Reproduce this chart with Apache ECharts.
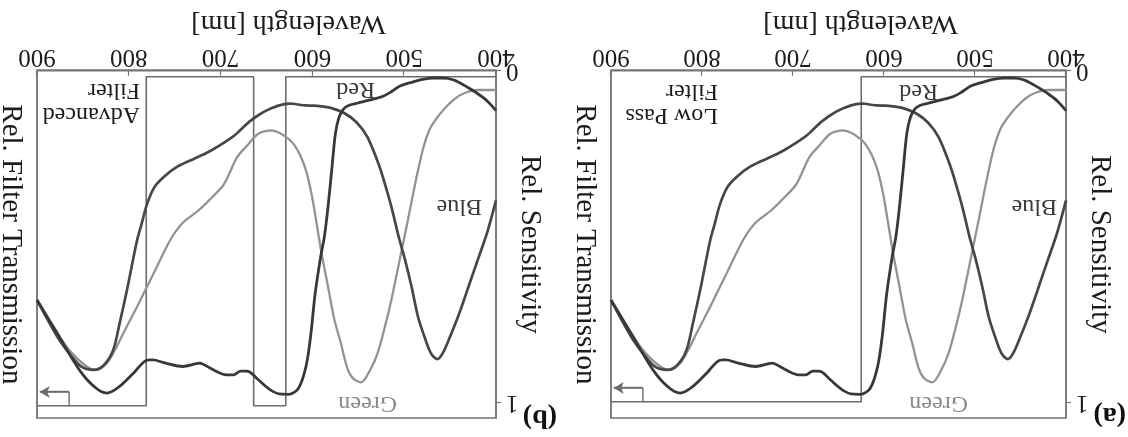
<!DOCTYPE html>
<html>
<head>
<meta charset="utf-8">
<script src="https://cdn.jsdelivr.net/npm/echarts@6/dist/echarts.min.js"></script>
<style>
html,body{margin:0;padding:0;background:#fff;overflow:hidden;}
#chart{width:1128px;height:437px;transform:rotate(180deg);transform-origin:50% 50%;background:#fff;}
</style>
</head>
<body>
<div id="chart"></div>
<script>
// ---- data (wavelength in nm, relative values) ----
const blueNm  = [400,410,420,430,440,450,458,464,471,478,485,492,499,506,513,520,528,540,552,565,580,595,610,625,637,653,669,685,701,717,733,748,762,772,780,786,791,802,810,817,827,838,852,865,878,900];
const blueVal = [0.39,0.49,0.57,0.65,0.73,0.80,0.85,0.868,0.85,0.80,0.74,0.65,0.57,0.50,0.42,0.35,0.28,0.20,0.155,0.128,0.112,0.106,0.104,0.099,0.105,0.124,0.154,0.195,0.225,0.25,0.27,0.29,0.32,0.35,0.40,0.46,0.51,0.66,0.76,0.84,0.885,0.90,0.89,0.85,0.80,0.69];

const greenNm  = [400,420,430,440,450,461,472,479,485,491,496,502,508,514,521,529,537,547,556,562,569,576,583,590,596,601,607,616,626,644,659,671,682,696,709,724,742,755,773,791,806,815,824,835,846,865,882,900];
const greenVal = [0.058,0.058,0.063,0.075,0.097,0.13,0.175,0.23,0.30,0.38,0.45,0.53,0.61,0.69,0.77,0.85,0.90,0.938,0.925,0.895,0.82,0.75,0.65,0.55,0.45,0.37,0.30,0.24,0.205,0.18,0.19,0.225,0.26,0.34,0.38,0.42,0.46,0.51,0.61,0.71,0.79,0.84,0.88,0.90,0.89,0.84,0.77,0.69];

const redNm  = [400,410,421,434,446,458,468,480,492,504,515,523,537,550,560,566,571,575,579,583,587,591,597,602,607,615,626,637,647,659,670,678,686,694,708,723,741,760,774,781,795,810,824,838,854,876,900];
const redVal = [0.12,0.09,0.067,0.045,0.028,0.022,0.022,0.026,0.035,0.045,0.065,0.077,0.088,0.097,0.104,0.115,0.14,0.19,0.30,0.41,0.50,0.56,0.67,0.80,0.89,0.955,0.974,0.972,0.958,0.93,0.905,0.904,0.915,0.915,0.90,0.88,0.89,0.88,0.87,0.872,0.91,0.95,0.97,0.95,0.90,0.80,0.69];

// filter transmission curves
const lowPassNm  = [400,625,625,900];
const lowPassVal = [0.018,0.018,0.996,0.996];
const advancedNm  = [400,629,629,664,664,781,781,900];
const advancedVal = [0.018,0.018,1.008,1.008,0.018,0.018,1.008,1.008];

// right-axis pointer arrows
const arrowNm   = [865,865,897];
const arrowValA = [0.996,0.955,0.955];
const arrowValB = [1.008,0.967,0.967];

// ---- chart ----
const zip = (a, b) => a.map((x, i) => [x, b[i]]);
const FONT = 'Liberation Serif';
const TXT = '#1c1c1c';
const AX = '#767676';
const FILT = '#6c6c6c';

function xAxisCfg(g) {
  return {
    gridIndex: g, type: 'value', min: 400, max: 900, interval: 100,
    axisLine: { show: true, onZero: false, lineStyle: { color: AX, width: 1.5 } },
    axisTick: { show: true, inside: true, length: 5, lineStyle: { color: AX, width: 1.2 } },
    axisLabel: { fontFamily: FONT, fontSize: 25, color: TXT, margin: 2 },
    splitLine: { show: false },
    name: 'Wavelength [nm]', nameLocation: 'middle', nameGap: 33, nameMoveOverlap: false,
    nameTextStyle: { fontFamily: FONT, fontSize: 28, color: TXT, padding: [0, 44, 0, 0] }
  };
}
function yLeftCfg(g) {
  return {
    gridIndex: g, type: 'value', min: 0, max: 1.045, position: 'left',
    axisLine: { show: true, lineStyle: { color: AX, width: 1.5 } },
    axisTick: { show: true, length: 5, customValues: [0, 1], lineStyle: { color: AX, width: 1.2 } },
    axisLabel: { customValues: [0, 1], fontFamily: FONT, fontSize: 25, color: TXT, margin: 10 },
    splitLine: { show: false },
    name: 'Rel. Sensitivity', nameLocation: 'middle', nameRotate: 90, nameGap: 19, nameMoveOverlap: false,
    nameTextStyle: { fontFamily: FONT, fontSize: 29, color: TXT }
  };
}
function yRightCfg(g) {
  return {
    gridIndex: g, type: 'value', min: 0, max: 1.045, position: 'right',
    axisLine: { show: true, lineStyle: { color: AX, width: 1.5 } },
    axisTick: { show: false }, axisLabel: { show: false }, splitLine: { show: false },
    name: 'Rel. Filter Transmission', nameLocation: 'middle', nameRotate: 90, nameGap: 12, nameMoveOverlap: false,
    nameTextStyle: { fontFamily: FONT, fontSize: 29, color: TXT }
  };
}
function curve(name, nm, val, xi, yi, color, width, z) {
  return {
    name, type: 'line', xAxisIndex: xi, yAxisIndex: yi, data: zip(nm, val),
    showSymbol: false, smooth: 0.3, z: z, silent: true,
    lineStyle: { color, width }
  };
}
function filterSeries(name, nm, val, xi, yi) {
  return {
    name, type: 'line', xAxisIndex: xi, yAxisIndex: yi, data: zip(nm, val),
    showSymbol: false, smooth: false, z: 1, silent: true,
    lineStyle: { color: FILT, width: 1.6 }
  };
}
function arrowSeries(name, nm, val, xi, yi) {
  return {
    name, type: 'line', xAxisIndex: xi, yAxisIndex: yi, data: zip(nm, val),
    showSymbol: false, z: 1, silent: true,
    lineStyle: { color: FILT, width: 1.4 },
    markLine: {
      silent: true, symbol: ['none', 'arrow'], symbolSize: [9, 10], animation: false,
      label: { show: false },
      lineStyle: { color: FILT, width: 1.4, type: 'solid' },
      data: [[{ coord: [nm[1], val[1]] }, { coord: [nm[2], val[2]] }]]
    }
  };
}

const BLUE_C = '#474747', GREEN_C = '#939393', RED_C = '#383838';
const labelStyle = (txt, x, y, extra) => ({
  type: 'text', left: x, top: y, silent: true,
  style: Object.assign({ text: txt, fontFamily: FONT, fontSize: 24, fill: TXT }, extra || {})
});

const option = {
  animation: false,
  backgroundColor: '#ffffff',
  grid: [
    { left: 62, top: 19, width: 455, height: 347.3, show: true, borderColor: AX, borderWidth: 1.5, containLabel: false, outerBoundsMode: 'none' },
    { left: 632, top: 19, width: 459, height: 347.3, show: true, borderColor: AX, borderWidth: 1.5, containLabel: false, outerBoundsMode: 'none' }
  ],
  xAxis: [xAxisCfg(0), xAxisCfg(1)],
  yAxis: [yLeftCfg(0), yRightCfg(0), yLeftCfg(1), yRightCfg(1)],
  series: [
    filterSeries('Low Pass Filter', lowPassNm, lowPassVal, 0, 1),
    arrowSeries('arrowA', arrowNm, arrowValA, 0, 1),
    curve('Green', greenNm, greenVal, 0, 0, GREEN_C, 2.3, 2),
    curve('Blue', blueNm, blueVal, 0, 0, BLUE_C, 2.7, 3),
    curve('Red', redNm, redVal, 0, 0, RED_C, 2.8, 4),
    filterSeries('Advanced Filter', advancedNm, advancedVal, 1, 3),
    arrowSeries('arrowB', arrowNm, arrowValB, 1, 3),
    curve('Green', greenNm, greenVal, 1, 2, GREEN_C, 2.3, 2),
    curve('Blue', blueNm, blueVal, 1, 2, BLUE_C, 2.7, 3),
    curve('Red', redNm, redVal, 1, 2, RED_C, 2.8, 4)
  ],
  graphic: [
    { type: 'text', left: 2, top: 8, silent: true, style: { text: '(a)', fontFamily: FONT, fontSize: 28, fontWeight: 'bold', fill: '#111' } },
    { type: 'text', left: 571, top: 6, silent: true, style: { text: '(b)', fontFamily: FONT, fontSize: 28, fontWeight: 'bold', fill: '#111' } },
    labelStyle('Red', 190, 334, { fill: '#3a3a3a' }),
    labelStyle('Red', 753, 336, { fill: '#3a3a3a' }),
    labelStyle('Blue', 71, 219, { fill: '#3a3a3a' }),
    labelStyle('Blue', 646, 219, { fill: '#3a3a3a' }),
    labelStyle('Green', 160, 22, { fill: '#8a8a8a' }),
    labelStyle('Green', 731, 22, { fill: '#8a8a8a' }),
    labelStyle('Low Pass\nFilter', 410, 309, { lineHeight: 24.5 }),
    labelStyle('Advanced\nFilter', 988, 310, { lineHeight: 24.5 })
  ]
};

const chart = echarts.init(document.getElementById('chart'), null, { renderer: 'canvas' });
chart.setOption(option);
</script>
</body>
</html>
